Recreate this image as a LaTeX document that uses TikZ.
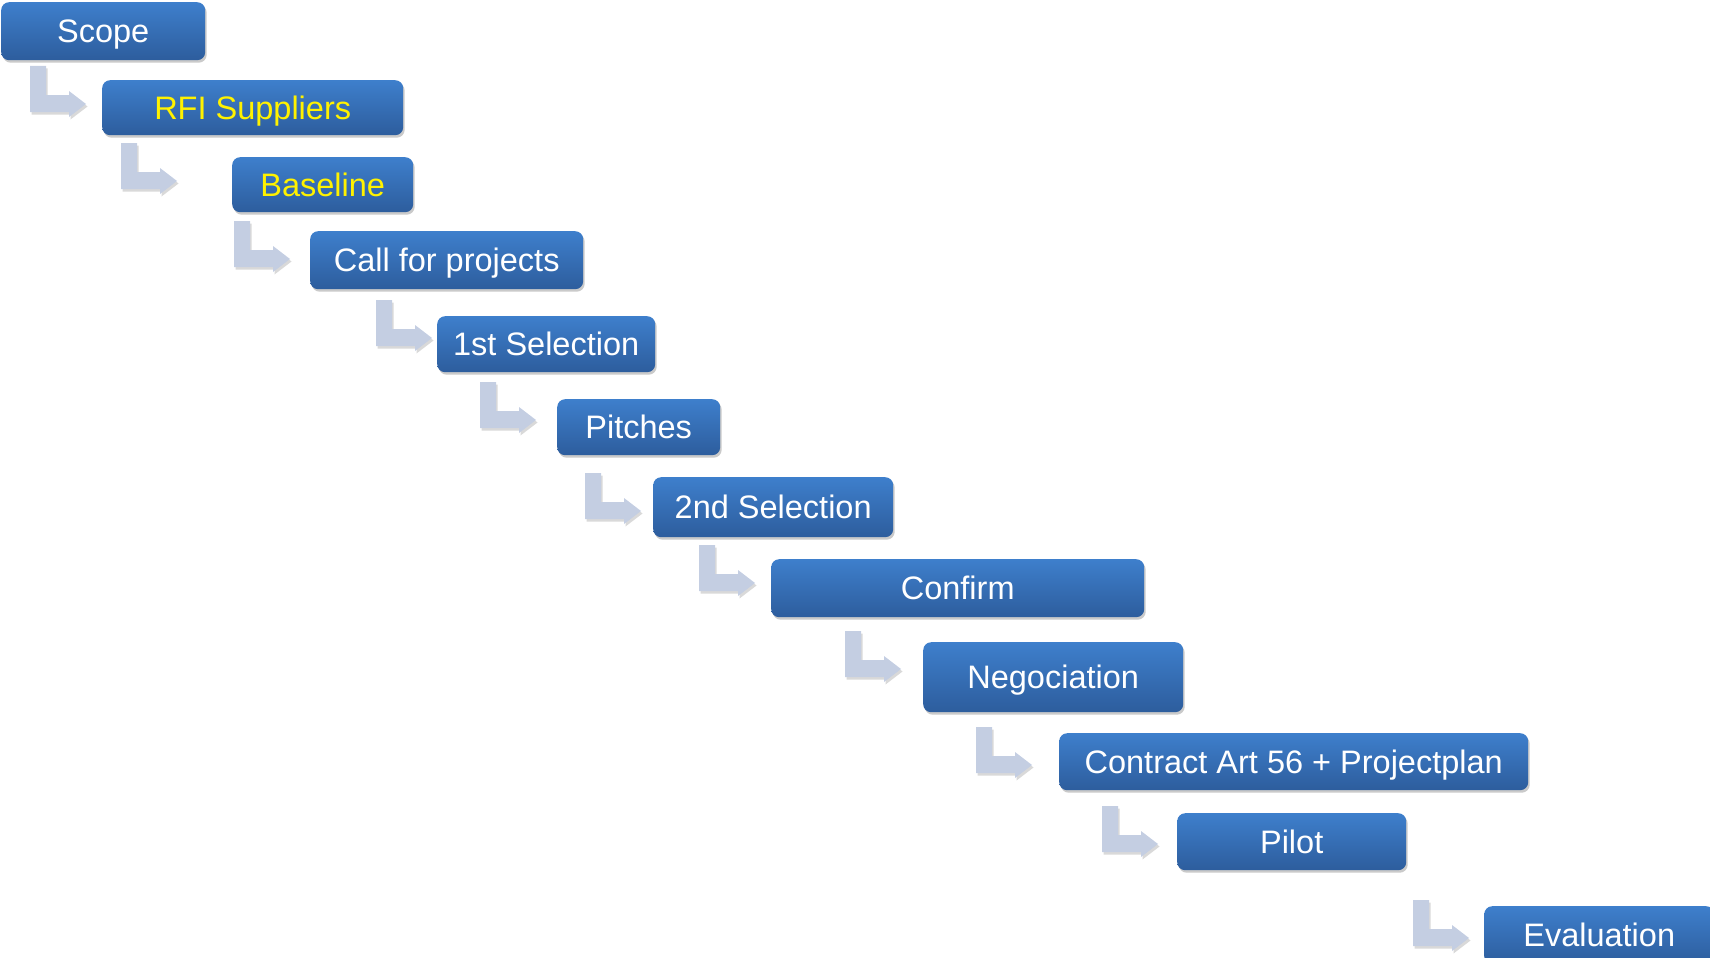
\documentclass[tikz,border=0pt]{standalone}
\usepackage{fontspec}
\setmainfont{Liberation Sans}
\usetikzlibrary{shadows}
\definecolor{boxtop}{RGB}{62,127,204}
\definecolor{boxbot}{RGB}{45,93,157}
\definecolor{arrowfill}{RGB}{196,206,226}
\tikzset{
  box/.style={rounded corners=8pt, top color=boxtop, bottom color=boxbot, draw=none,
    anchor=north west, inner sep=0pt, text=white,
    font=\fontsize{32.5}{36}\selectfont, text height=23.3pt, text depth=0pt,
    drop shadow={shadow xshift=1.5pt, shadow yshift=-2.5pt, opacity=0.35, fill=black!60}},
  hl/.style={text=yellow},
  larrow/.pic={
    \fill[arrowfill, drop shadow={shadow xshift=1.5pt, shadow yshift=-2.5pt, opacity=0.25, fill=black!60}]
      (0,0) -- (16,0) -- (16,29) -- (39,29) -- (39,25) -- (56,38) -- (39,51) -- (39,46) -- (0,46) -- cycle;
  }
}
\begin{document}
\begin{tikzpicture}[x=1pt,y=-1pt]
\useasboundingbox (0,0) rectangle (1710,958);
\clip (0,0) rectangle (1710,958);
\node[box, minimum width=204pt, minimum height=58pt] (scope) at (1,2) {Scope};
\node[box, hl, minimum width=301pt, minimum height=55pt] (rfi) at (102,80) {RFI Suppliers};
\node[box, hl, minimum width=181pt, minimum height=55pt] (baseline) at (232,157) {Baseline};
\node[box, minimum width=273pt, minimum height=58pt] (call) at (310,231) {Call for projects};
\node[box, minimum width=218pt, minimum height=56pt] (sel1) at (437,316) {1st Selection};
\node[box, minimum width=163pt, minimum height=56pt] (pitches) at (557,399) {Pitches};
\node[box, minimum width=240pt, minimum height=60pt] (sel2) at (653,477) {2nd Selection};
\node[box, minimum width=373pt, minimum height=58pt] (confirm) at (771,559) {Confirm};
\node[box, minimum width=260pt, minimum height=70pt] (nego) at (923,642) {Negociation};
\node[box, minimum width=469pt, minimum height=57pt] (contract) at (1059,733) {Contract Art 56 + Projectplan};
\node[box, minimum width=229pt, minimum height=57pt] (pilot) at (1177,813) {Pilot};
\node[box, minimum width=230pt, minimum height=58pt] (eval) at (1484,906) {Evaluation};
\pic at (30,66) {larrow};
\pic at (121,143) {larrow};
\pic at (234,221) {larrow};
\pic at (376,300) {larrow};
\pic at (480,382) {larrow};
\pic at (585,473) {larrow};
\pic at (699,545) {larrow};
\pic at (845,631) {larrow};
\pic at (976,727) {larrow};
\pic at (1102,806) {larrow};
\pic at (1413,900) {larrow};
\end{tikzpicture}
\end{document}
